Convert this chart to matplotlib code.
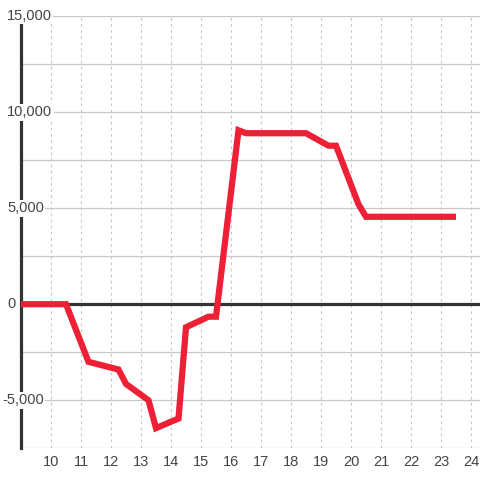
import matplotlib
matplotlib.use('Agg')
from matplotlib import pyplot as plt
from matplotlib.transforms import blended_transform_factory

# data
hours = [8.9, 10.5, 11.25, 12.25, 12.5, 13.25, 13.5, 14.25, 14.5, 15.25, 15.5,
         16.25, 16.5, 18.5, 19.25, 19.5, 20.25, 20.5, 23.5]
values = [0, 0, -3000, -3400, -4150, -5000, -6450, -5950, -1200, -650, -650,
          9050, 8900, 8900, 8250, 8250, 5200, 4550, 4550]
x_ticks = list(range(10, 25))
y_ticks = [15000, 10000, 5000, 0, -5000]
y_labels = ['15,000', '10,000', '5,000', '0', '-5,000']

plt.rcParams['font.family'] = ['Liberation Sans', 'DejaVu Sans']

W = 480
fig = plt.figure(figsize=(4.8, 4.8), dpi=100)
fig.patch.set_facecolor('white')

left_px, top_px, bot_px = 20.5, 16.0, 448.3
ax = fig.add_axes([left_px / W, 1 - bot_px / W, 1 - left_px / W, (bot_px - top_px) / W])
ax.set_xlim(10 - (51 - left_px) / 30, 10 + (480 - 51) / 30)
ax.set_ylim(-7500, 15000)

# grid
for yv in range(-7500, 15001, 2500):
    ax.axhline(yv, color='#c8c8c8', lw=0.9, zorder=1)
for xv in x_ticks:
    ax.axvline(xv, color='#c8c8c8', lw=0.8, ls=(0, (2.5, 3)), zorder=1)

ax.axhline(0, color='#333333', lw=2.3, zorder=2)

ax.plot(hours, values, color='#ee2036', lw=4.5, solid_joinstyle='miter',
        solid_capstyle='butt', zorder=3)

for s in ['top', 'right', 'bottom']:
    ax.spines[s].set_visible(False)
ax.spines['left'].set_color('#333333')
ax.spines['left'].set_linewidth(2.3)
ax.spines['left'].set_bounds(-7500, 14580)
ax.spines['left'].set_zorder(2)

ax.set_xticks(x_ticks)
ax.set_xticklabels([str(v) for v in x_ticks])
ax.tick_params(axis='x', length=0, pad=5, labelsize=10.5, labelcolor='#444444')
ax.set_yticks([])

tr = blended_transform_factory(fig.transFigure, ax.transData)
for yv, lab in zip(y_ticks, y_labels):
    x0 = 2.0 if lab.startswith('-') else 7.0
    fig.text(x0 / W, yv, lab, transform=tr, ha='left', va='center',
             fontsize=10.5, color='#444444',
             bbox=dict(facecolor='white', edgecolor='none', pad=1.0))

fig.savefig('out.png', dpi=100, facecolor='white')
